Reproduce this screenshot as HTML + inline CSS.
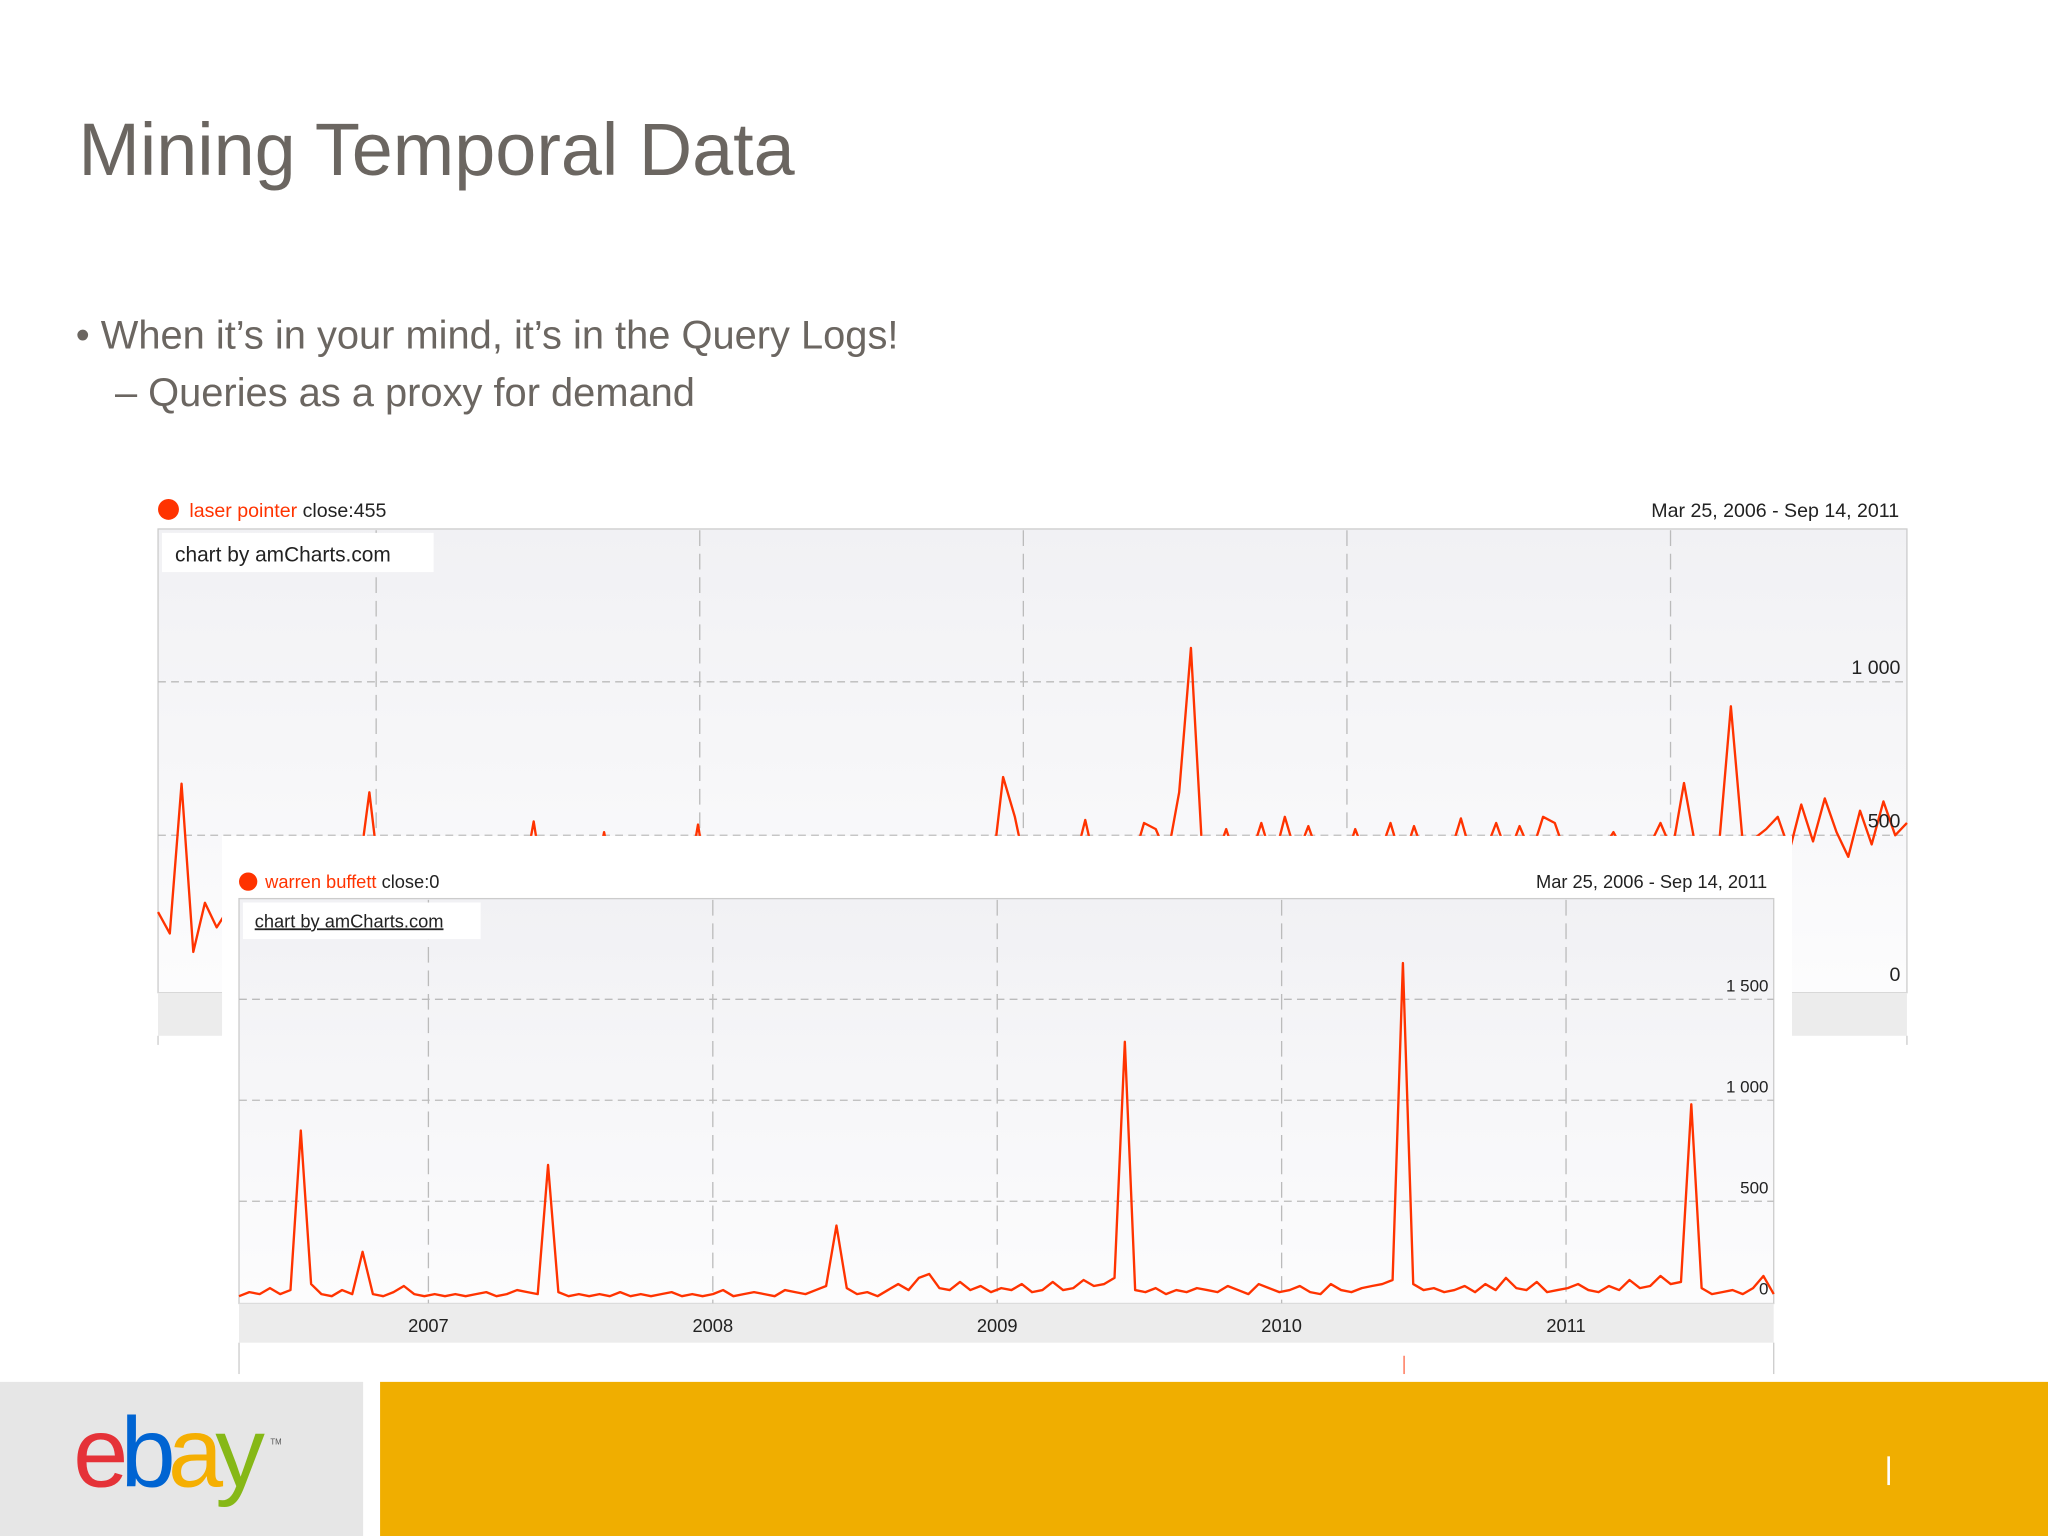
<!DOCTYPE html>
<html><head><meta charset="utf-8"><style>
html,body{margin:0;padding:0;background:#fff;}
svg{display:block;font-family:"Liberation Sans",sans-serif;}
</style></head><body>
<svg id="slide" width="2048" height="1536" viewBox="0 0 1568 1176" xmlns="http://www.w3.org/2000/svg">
<defs>
<linearGradient id="pg" x1="0" y1="0" x2="0" y2="1"><stop offset="0" stop-color="#f1f1f4"/><stop offset="1" stop-color="#fcfcfd"/></linearGradient>
</defs>
<rect width="1568" height="1176" fill="#fff"/>
<text x="60" y="134" font-size="56.5" fill="#6b6661">Mining Temporal Data</text>
<text x="58" y="267" font-size="30.5" fill="#6b6661">• When it’s in your mind, it’s in the Query Logs!</text>
<text x="88" y="311" font-size="30.5" fill="#6b6661">–  Queries as a proxy for demand</text>

<g id="chart1">
  <circle cx="129" cy="390" r="8" fill="#ff3300"/>
  <text x="145" y="396" font-size="15"><tspan fill="#ff3300">laser pointer</tspan><tspan fill="#222"> close:455</tspan></text>
  <text x="1454" y="396" font-size="15" fill="#222" text-anchor="end">Mar 25, 2006 - Sep 14, 2011</text>
  <rect x="121" y="405" width="1339" height="355" fill="url(#pg)" stroke="#ccc"/>
  <rect x="121" y="760" width="1339" height="33" fill="#ececec"/>
  <line x1="121" y1="793" x2="121" y2="800" stroke="#ccc"/><line x1="1460" y1="793" x2="1460" y2="800" stroke="#ccc"/>
  <g id="grid1"></g>
  <rect x="124" y="408" width="208" height="30" fill="#fff"/>
  <text x="134" y="430" font-size="16" fill="#222">chart by amCharts.com</text>
  <polyline id="line1" fill="none" stroke="#ff3300" stroke-width="1.8" stroke-linejoin="round"/>
  <g id="ylab1"></g>
</g>

<rect x="170" y="640" width="1202" height="418" fill="#fff"/>

<g id="chart2">
  <circle cx="190" cy="675" r="7" fill="#ff3300"/>
  <text x="203" y="680" font-size="14"><tspan fill="#ff3300">warren buffett</tspan><tspan fill="#222"> close:0</tspan></text>
  <text x="1353" y="680" font-size="14" fill="#222" text-anchor="end">Mar 25, 2006 - Sep 14, 2011</text>
  <rect x="183" y="688" width="1175" height="310" fill="url(#pg)" stroke="#ccc"/>
  <rect x="183" y="998" width="1175" height="30" fill="#ececec"/>
  <line x1="183" y1="1028" x2="183" y2="1052" stroke="#ccc"/><line x1="1358" y1="1028" x2="1358" y2="1052" stroke="#ccc"/>
  <line x1="1075" y1="1038" x2="1075" y2="1052" stroke="#ff6644"/>
  <g id="grid2"></g>
  <rect x="186" y="691" width="182" height="28" fill="#fff"/>
  <text x="195" y="710" font-size="14" fill="#222" text-decoration="underline">chart by amCharts.com</text>
  <polyline id="line2" fill="none" stroke="#ff3300" stroke-width="1.8" stroke-linejoin="round"/>
  <g id="ylab2"></g>
  <g id="xlab2"></g>
</g>

<g>
  <rect x="0" y="1058" width="278" height="118" fill="#e6e6e6"/>
  <rect x="291" y="1058" width="1277" height="118" fill="#f0ae00"/>
  <rect x="1445" y="1115" width="2" height="22" fill="#fff"/>
  <text x="56" y="1138" font-size="76" letter-spacing="-6"><tspan fill="#e53238">e</tspan><tspan fill="#0064d2">b</tspan><tspan fill="#f5af02">a</tspan><tspan fill="#86b817">y</tspan></text>
  <text x="207" y="1106" font-size="6" fill="#555">TM</text>
</g>
</svg>
<script>
const laserValues=[250,180,668,120,280,200,260,300,240,310,
280,300,320,290,310,300,330,350,640,320,
300,310,290,330,300,320,310,300,290,320,
310,330,545,300,320,310,300,290,510,310,
300,320,310,300,330,310,535,300,320,310,
300,290,310,320,300,310,300,320,330,310,
300,320,310,330,300,320,340,330,350,360,
340,360,690,560,380,360,370,390,400,550,
380,390,400,410,540,520,430,640,1110,420,
410,520,400,420,540,410,560,430,530,420,
410,400,520,420,430,540,410,530,420,410,
430,555,420,440,540,430,530,440,560,540,
430,440,420,450,510,440,430,460,540,450,
670,460,450,470,920,480,490,520,560,450,
600,480,620,510,430,580,470,610,500,540];
const buffettValues=[30,50,40,70,40,60,850,90,40,30,
60,40,250,40,30,50,80,40,30,40,
30,40,30,40,50,30,40,60,50,40,
680,50,30,40,30,40,30,50,30,40,
30,40,50,30,40,30,40,60,30,40,
50,40,30,60,50,40,60,80,380,70,
40,50,30,60,90,60,120,140,70,60,
100,60,80,50,70,60,90,50,60,100,
60,70,110,80,90,120,1290,60,50,70,
40,60,50,70,60,50,80,60,40,90,
70,50,60,80,50,40,90,60,50,70,
80,90,110,1680,90,60,70,50,60,80,
50,90,60,120,70,60,100,50,60,70,
90,60,50,80,60,110,70,80,130,90,
100,980,70,40,50,60,40,70,130,40];
const yTicks1=[0,500,1000];
const yTickLabels1=["0","500","1 000"];
const yTicks2=[0,500,1000,1500];
const yTickLabels2=["0","500","1 000","1 500"];
const yearTicks=[2007,2008,2009,2010,2011];
const yearLabels=["2007","2008","2009","2010","2011"];

const NS="http://www.w3.org/2000/svg";
function mk(tag,attrs,parent){const e=document.createElementNS(NS,tag);for(const k in attrs)e.setAttribute(k,attrs[k]);parent.appendChild(e);return e;}
function axes(x0,w,n,yZero,pxPer500,y2011,y2007){
  return {x:i=>x0+i*w/(n-1), y:v=>yZero-v*pxPer500/500, yr:t=>y2007+(t-2007)*(y2011-y2007)/4};
}
const a1=axes(121,1339,laserValues.length,757,117.5,1279,288);
const a2=axes(183,1175,buffettValues.length,997,77.3,1199,328);

function build(ax,vals,lineId,gridId,ylabId,yt,ytl,x0,x1,top,bottom,labX,fs){
  const g=document.getElementById(gridId);
  yt.forEach((t,k)=>{
    if(t>0){const l=mk('line',{x1:x0,x2:x1,y1:ax.y(t),y2:ax.y(t),stroke:'#bbb','stroke-dasharray':'6,4'},g);
    
    }
    const tx=mk('text',{x:labX,y:ax.y(t)-6,'font-size':fs,fill:'#222','text-anchor':'end'},document.getElementById(ylabId));
    tx.textContent=ytl[k];
    
    
  });
  yearTicks.forEach(t=>{
    const l=mk('line',{x1:ax.yr(t),x2:ax.yr(t),y1:top,y2:bottom,stroke:'#bbb','stroke-dasharray':'12,6'},g);
    
    
  });
  document.getElementById(lineId).setAttribute('points',vals.map((v,i)=>ax.x(i).toFixed(1)+','+ax.y(v).toFixed(1)).join(' '));
}
build(a1,laserValues,'line1','grid1','ylab1',yTicks1,yTickLabels1,121,1460,406,760,1455,15);
build(a2,buffettValues,'line2','grid2','ylab2',yTicks2,yTickLabels2,183,1358,689,998,1354,13);
const xl=document.getElementById('xlab2');
yearTicks.forEach((t,k)=>{
  const tx=mk('text',{x:a2.yr(t),y:1020,'font-size':14,fill:'#222','text-anchor':'middle'},xl);
  tx.textContent=yearLabels[k];
  
  
});
</script>
</body></html>
